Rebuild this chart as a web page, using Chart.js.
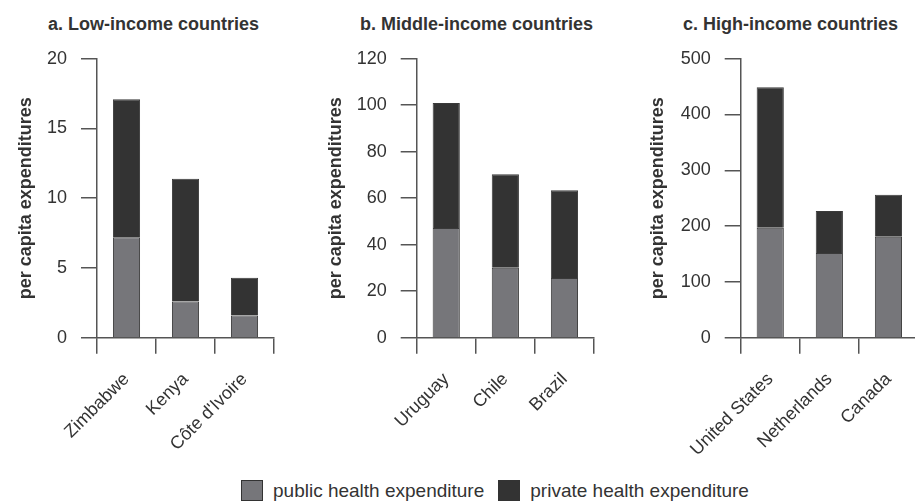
<!DOCTYPE html>
<html>
<head>
<meta charset="utf-8">
<script src="https://cdn.jsdelivr.net/npm/chart.js@4.4.1/dist/chart.umd.min.js"></script>
<style>
  body { margin: 0; background: #fff; width: 915px; height: 502px; overflow: hidden; position: relative; font-family: 'Liberation Sans', Arial, sans-serif; }
  canvas { position: absolute; top: 0; }
  .ptitle { position: absolute; top: 15px; font-weight: bold; font-size: 18px; line-height: 18px; color: #333; white-space: nowrap; }
  .legend { position: absolute; left: 241px; top: 480px; display: flex; align-items: center; font-size: 19px; line-height: 20px; color: #333; }
  .legend .box { width: 20px; height: 19px; border: 1px solid #333; display: inline-block; }
</style>
</head>
<body>
<div class="ptitle" style="left:48px">a. Low-income countries</div>
<div class="ptitle" style="left:360px">b. Middle-income countries</div>
<div class="ptitle" style="left:683px">c. High-income countries</div>

<canvas id="chartA" width="278" height="470" style="left:0px"></canvas>
<canvas id="chartB" width="288" height="470" style="left:310px"></canvas>
<canvas id="chartC" width="290" height="470" style="left:632px"></canvas>

<div class="legend">
  <span class="box" style="background:#76767a"></span>
  <span style="margin-left:10px;margin-right:14px">public health expenditure</span>
  <span class="box" style="background:#333333"></span>
  <span style="margin-left:10px">private health expenditure</span>
</div>

<script>
// data (per capita, US$)
var lowCountries = ['Zimbabwe', 'Kenya', "Côte d'Ivoire"];
var lowPublic = [7.2, 2.6, 1.6];
var lowPrivate = [9.9, 8.8, 2.7];

var midCountries = ['Uruguay', 'Chile', 'Brazil'];
var midPublic = [47.2, 30.1, 25.7];
var midPrivate = [53.8, 40.2, 37.7];

var highCountries = ['United States', 'Netherlands', 'Canada'];
var highPublic = [197, 152, 181];
var highPrivate = [252, 75, 75];

var seriesNames = ['public health expenditure', 'private health expenditure'];
var seriesColors = ['#76767a', '#333333'];

var axisColor = '#555555';

function barPanel(canvasId, labels, pub, priv, yMax, yStep, axisWidth) {
    const config = {
        type: 'bar',
        data: {
            labels: labels,
            datasets: [{
                label: seriesNames[0],
                data: pub,
                backgroundColor: seriesColors[0],
                borderColor: '#3a3a3a',
                borderWidth: 1,
                barPercentage: 0.46,
                categoryPercentage: 1
            }, {
                label: seriesNames[1],
                data: priv,
                backgroundColor: seriesColors[1],
                borderColor: '#3a3a3a',
                borderWidth: 1,
                barPercentage: 0.46,
                categoryPercentage: 1
            }]
        },
        options: {
            responsive: false,
            animation: false,
            layout: {
                padding: { top: 58.7, bottom: 0, left: 0, right: 4 }
            },
            plugins: {
                legend: { display: false },
                tooltip: { enabled: false }
            },
            scales: {
                x: {
                    stacked: true,
                    grid: { display: true, drawOnChartArea: false, offset: true, tickLength: 16, color: axisColor, lineWidth: 1.5 },
                    border: { color: axisColor, width: 1.5 },
                    ticks: {
                        color: '#333',
                        font: { family: 'Liberation Sans', size: 18 },
                        maxRotation: 45, minRotation: 45,
                        padding: 15,
                        autoSkip: false
                    },
                    // keep the plot bottom at the same place whatever the label length
                    afterFit: function (scale) { scale.height = 470 - 337.7; }
                },
                y: {
                    stacked: true,
                    min: 0, max: yMax,
                    grid: { display: true, drawOnChartArea: false, tickLength: 16, color: axisColor, lineWidth: 1.5 },
                    border: { color: axisColor, width: 1.5 },
                    ticks: {
                        stepSize: yStep,
                        color: '#333',
                        padding: 14,
                        font: { family: 'Liberation Sans', size: 18 }
                    },
                    title: {
                        display: true,
                        text: 'per capita expenditures',
                        color: '#333',
                        padding: { top: 15 },
                        font: { family: 'Liberation Sans', size: 18, weight: 'bold' }
                    },
                    afterFit: function (scale) { scale.width = axisWidth; }
                }
            }
        }
    };
    return new Chart(document.getElementById(canvasId), config);
}

barPanel('chartA', lowCountries, lowPublic, lowPrivate, 20, 5, 97);
barPanel('chartB', midCountries, midPublic, midPrivate, 120, 20, 106.7);
barPanel('chartC', highCountries, highPublic, highPrivate, 500, 100, 108.7);
</script>
</body>
</html>
